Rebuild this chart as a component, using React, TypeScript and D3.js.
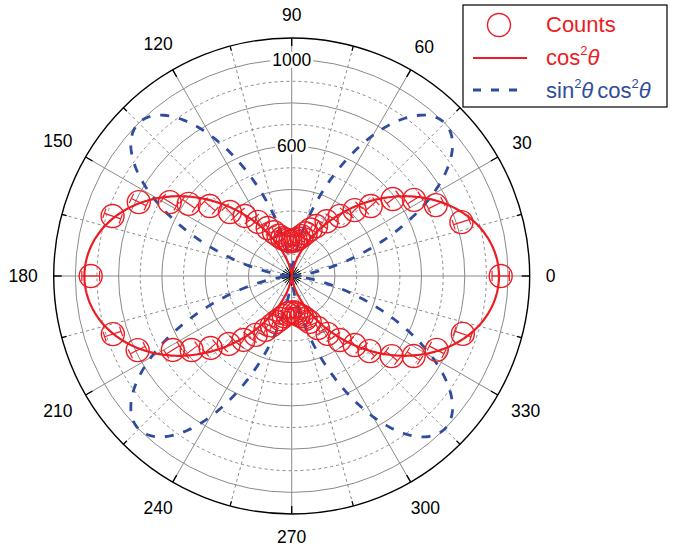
import React from 'react';
import * as d3 from 'd3';

// Angular axis labels (degrees)
const angleTicks = [0, 30, 60, 90, 120, 150, 180, 210, 240, 270, 300, 330];
const minorAngles = [15, 45, 75, 105, 135, 165, 195, 225, 255, 285, 315, 345];
// Radial grid
const solidRings = [200, 400, 600, 800, 1000];
const dashedRings = [100, 300, 500, 700, 900];
const radialLabels = [600, 1000];
const radialMax = 1100;

// Measured counts: angle (deg), counts, error
const countAngles = [
  0, 17.6, 26.2, 31.9, 37.3, 41.5, 46.3, 51.3, 57.5, 64, 68, 72, 76, 80, 84, 88,
  92, 96, 100, 104, 108, 112, 116.6, 122, 128, 134, 139.5, 145, 148.8, 154.2, 161.5, 180,
  198, 205.7, 211.9, 216.5, 221.6, 227.2, 233, 238.6, 244, 248, 251, 255, 259, 263, 267,
  273, 277, 280, 284, 288, 291.4, 296.6, 301.8, 306.9, 312.4, 316, 321.3, 326.7, 333, 341.3,
];
const countValues = [
  966, 823, 742, 666, 587, 488, 421, 356, 300, 257, 232, 208, 190, 176, 168, 162,
  160, 166, 172, 180, 196, 218, 248, 295, 352, 411, 498, 581, 659, 785, 873, 929,
  869, 790, 647, 575, 501, 428, 370, 319, 277, 246, 225, 206, 189, 176, 170,
  168, 174, 182, 192, 208, 228, 269, 315, 370, 432, 500, 592, 674, 752, 835,
];
const countErrors = [
  40, 38, 37, 35, 34, 32, 30, 29, 27, 26, 25, 24, 23, 22, 22, 22,
  22, 22, 23, 23, 24, 25, 26, 27, 29, 31, 33, 35, 36, 38, 40, 41,
  40, 38, 36, 34, 32, 30, 29, 27, 26, 25, 24, 23, 23, 22, 22,
  22, 22, 23, 23, 24, 24, 26, 27, 29, 31, 33, 35, 36, 38, 40,
];

// Curve amplitudes (counts)
const cosAmplitude = 958; // A cos^2 θ
const sinCosAmplitude = 1000; // 4B sin^2 θ cos^2 θ peak

const W = 679;
const H = 550;
const cx = 291.7;
const cy = 276;
const R = 238;

const RED = '#ec1c24';
const BLUE = '#2e4d9e';
const GRID = '#8a8a8a';
const FONT = 'Arial, "Liberation Sans", Helvetica, sans-serif';

const rScale = d3.scaleLinear().domain([0, radialMax]).range([0, R]);
const rad = (deg: number) => (deg * Math.PI) / 180;
const px = (deg: number, r: number) => cx + r * Math.cos(rad(deg));
const py = (deg: number, r: number) => cy - r * Math.sin(rad(deg));

const curveDegs = d3.range(0, 360.25, 0.5);

function curvePath(fn: (t: number) => number) {
  const gen = d3
    .lineRadial<number>()
    .angle((d) => Math.PI / 2 - rad(d))
    .radius((d) => rScale(fn(rad(d))));
  return gen(curveDegs) as string;
}

export default function App() {
  const cosPath = curvePath((t) => cosAmplitude * Math.cos(t) ** 2);
  const sinCosPath = curvePath(
    (t) => sinCosAmplitude * 4 * Math.sin(t) ** 2 * Math.cos(t) ** 2,
  );
  const allAngles = [...angleTicks, ...minorAngles];

  return (
    <svg
      width={W}
      height={H}
      style={{ position: 'absolute', left: 0, top: 0, background: '#fff' }}
      fontFamily={FONT}
    >
      <rect x={0} y={0} width={W} height={H} fill="#fff" />
      {/* radial grid lines */}
      {angleTicks.map((a) => (
        <line
          key={'ra' + a}
          x1={cx}
          y1={cy}
          x2={px(a, R)}
          y2={py(a, R)}
          stroke={GRID}
          strokeWidth={1}
        />
      ))}
      {minorAngles.map((a) => (
        <line
          key={'rm' + a}
          x1={cx}
          y1={cy}
          x2={px(a, R)}
          y2={py(a, R)}
          stroke={GRID}
          strokeWidth={1}
          strokeDasharray="3,3"
        />
      ))}
      {/* rings */}
      {dashedRings.map((v) => (
        <circle
          key={'dr' + v}
          cx={cx}
          cy={cy}
          r={rScale(v)}
          fill="none"
          stroke={GRID}
          strokeWidth={1}
          strokeDasharray="3,3"
        />
      ))}
      {solidRings.map((v) => (
        <circle
          key={'sr' + v}
          cx={cx}
          cy={cy}
          r={rScale(v)}
          fill="none"
          stroke={GRID}
          strokeWidth={1}
        />
      ))}
      {/* hub where the spokes meet */}
      {allAngles.map((a) => (
        <line
          key={'hub' + a}
          x1={cx}
          y1={cy}
          x2={px(a, 10)}
          y2={py(a, 10)}
          stroke="#000"
          strokeWidth={1}
        />
      ))}
      {/* outer circle and ticks */}
      <circle cx={cx} cy={cy} r={R} fill="none" stroke="#000" strokeWidth={1.4} />
      {angleTicks.map((a) => (
        <line
          key={'tk' + a}
          x1={px(a, R)}
          y1={py(a, R)}
          x2={px(a, R - 8)}
          y2={py(a, R - 8)}
          stroke="#000"
          strokeWidth={1.4}
        />
      ))}
      {minorAngles.map((a) => (
        <line
          key={'tm' + a}
          x1={px(a, R)}
          y1={py(a, R)}
          x2={px(a, R - 5)}
          y2={py(a, R - 5)}
          stroke="#000"
          strokeWidth={1.2}
        />
      ))}
      {/* radial labels */}
      {radialLabels.map((v) => {
        const y = cy - rScale(v);
        const w = String(v).length * 9.8;
        return (
          <g key={'rl' + v}>
            <rect x={cx - w / 2 - 2} y={y - 8} width={w + 4} height={16} fill="#fff" />
            <text
              x={cx}
              y={y}
              textAnchor="middle"
              dominantBaseline="central"
              fontSize={17.5}
              fill="#000"
            >
              {v}
            </text>
          </g>
        );
      })}
      {/* angle labels */}
      {angleTicks.map((a) => {
        const w = String(a).length * 9.7;
        const c = Math.cos(rad(a));
        const s = Math.sin(rad(a));
        const D = 254 + (w / 2) * Math.abs(c) + 7 * Math.abs(s);
        return (
          <text
            key={'al' + a}
            x={cx + D * c}
            y={cy - D * s}
            textAnchor="middle"
            dominantBaseline="central"
            fontSize={17.5}
            fill="#000"
          >
            {a}
          </text>
        );
      })}
      {/* curves */}
      <path
        d={sinCosPath}
        transform={`translate(${cx},${cy})`}
        fill="none"
        stroke={BLUE}
        strokeWidth={2.8}
        strokeDasharray="9,10"
      />
      <path
        d={cosPath}
        transform={`translate(${cx},${cy})`}
        fill="none"
        stroke={RED}
        strokeWidth={2.2}
      />
      {/* counts with error bars */}
      {countAngles.map((a, i) => {
        const v = countValues[i];
        const e = countErrors[i];
        const r0 = rScale(v - e);
        const r1 = rScale(v + e);
        const t = rad(a);
        const nx = -Math.sin(t);
        const ny = -Math.cos(t);
        const cap = 5;
        const caps = [r0, r1].map((r, j) => (
          <line
            key={j}
            x1={px(a, r) + nx * cap}
            y1={py(a, r) + ny * cap}
            x2={px(a, r) - nx * cap}
            y2={py(a, r) - ny * cap}
            stroke={RED}
            strokeWidth={1.2}
          />
        ));
        return (
          <g key={'pt' + i}>
            <line
              x1={px(a, r0)}
              y1={py(a, r0)}
              x2={px(a, r1)}
              y2={py(a, r1)}
              stroke={RED}
              strokeWidth={1.2}
            />
            {caps}
            <circle
              cx={px(a, rScale(v))}
              cy={py(a, rScale(v))}
              r={11.5}
              fill="none"
              stroke={RED}
              strokeWidth={1.4}
            />
          </g>
        );
      })}
      {/* legend */}
      <g>
        <rect x={463} y={5} width={204} height={102} fill="#fff" stroke="#000" strokeWidth={1.2} />
        <circle cx={499} cy={25} r={11.5} fill="none" stroke={RED} strokeWidth={1.4} />
        <text x={546} y={32} fontSize={22} fill={RED}>
          Counts
        </text>
        <line x1={473} y1={58} x2={527} y2={58} stroke={RED} strokeWidth={2.2} />
        <text x={546} y={65} fontSize={22} fill={RED}>
          cos
          <tspan fontSize={13} dy={-10}>
            2
          </tspan>
          <tspan fontStyle="italic" dy={10}>
            θ
          </tspan>
        </text>
        <line
          x1={473}
          y1={90}
          x2={518}
          y2={90}
          stroke={BLUE}
          strokeWidth={2.8}
          strokeDasharray="8,10"
        />
        <text x={546} y={98} fontSize={22} fill={BLUE}>
          sin
          <tspan fontSize={13} dy={-10}>
            2
          </tspan>
          <tspan fontStyle="italic" dy={10}>
            θ
          </tspan>
          <tspan dx={4}>cos</tspan>
          <tspan fontSize={13} dy={-10}>
            2
          </tspan>
          <tspan fontStyle="italic" dy={10}>
            θ
          </tspan>
        </text>
      </g>
    </svg>
  );
}
